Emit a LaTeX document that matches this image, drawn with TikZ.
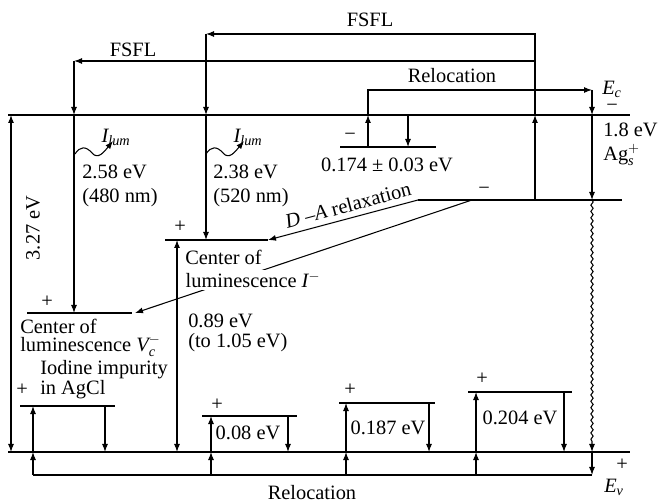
\documentclass[tikz,border=0pt]{standalone}
\usepackage{amsmath}
\usepackage{fontspec}
\setmainfont{Liberation Serif}
\usepackage{tikz}
\usetikzlibrary{arrows.meta,decorations.pathmorphing}

\begin{document}
\begin{tikzpicture}[
  x=0.025cm,y=-0.025cm,
  band/.style={line width=1.6pt},
  level/.style={line width=1.3pt},
  arrow/.style={-{Latex[length=2mm,width=1.5mm]},line width=0.75pt},
  darrow/.style={{Latex[length=2mm,width=1.5mm]}-{Latex[length=2mm,width=1.5mm]},line width=0.75pt},
  lbl/.style={font=\fontsize{14.5}{17}\selectfont,inner sep=0pt},
  wave/.style={decorate,decoration={snake,amplitude=0.8pt,segment length=4.5pt,post length=2.2mm}}
]
  \useasboundingbox (0,0) rectangle (659,504);

  % conduction and valence band
  \draw[band] (8,115) -- (630,115);
  \draw[band] (8,452) -- (630,452);
  \draw[darrow] (11,115) -- (11,452);

  % levels
  \draw[level] (340,147) -- (436,147);
  \draw[level] (418,200) -- (622,200);
  \draw[level] (165,240) -- (268,240);
  \draw[level] (27,313) -- (132,313);
  \draw[level] (20,406) -- (115,406);
  \draw[level] (202,416) -- (297,416);
  \draw[level] (339,403) -- (435,403);
  \draw[level] (468,392) -- (572,392);

  % shallow hole levels + relocation along Ev
  \foreach \xa/\xb/\yl in {33/105/406, 211/288/416, 346/429/403, 476/564/392}{
    \draw[arrow] (\xa,452) -- (\xa,\yl);
    \draw[arrow] (\xb,\yl) -- (\xb,452);
    \draw[arrow] (\xa,475) -- (\xa,452);
  }
  \draw[arrow] (592,452) -- (592,475);
  \draw[line width=0.75pt] (592,475) -- (33,475);

  % Ag level
  \draw[arrow] (592,115) -- (592,200);
  \draw[arrow,wave] (592,200) -- (592,452);

  % shallow electron level + relocation along Ec
  \draw[arrow] (368,147) -- (368,115);
  \draw[arrow] (408,115) -- (408,147);
  \draw[arrow] (368,115) -- (368,90) -- (592,90);
  \draw[arrow] (592,90) -- (592,115);

  % FSFL
  \draw[arrow] (535,200) -- (535,115);
  \draw[arrow] (535,115) -- (535,34) -- (206,34);
  \draw[arrow] (206,34) -- (206,115);
  \draw[arrow] (206,115) -- (206,240);
  \draw[arrow] (535,61) -- (74,61);
  \draw[arrow] (74,61) -- (74,115);
  \draw[arrow] (74,115) -- (74,313);

  % luminescence quanta
  \draw[arrow] (75,154) .. controls (80,146) and (86,146) .. (92,153)
    .. controls (98,160) and (104,152) .. (113,141);
  \draw[arrow] (206,154) .. controls (211,146) and (217,146) .. (223,153)
    .. controls (229,160) and (235,152) .. (244,141);

  % D-A relaxation
  \draw[arrow] (418,200) -- (268,240);
  \draw[arrow] (472,200) -- (135,313);
  \draw[darrow] (177,240) -- (177,452);

  % labels
  \node[lbl,rotate=90] (gap) at (33,228) {3.27 eV};
  \node[lbl,align=center] (ec) at (612,96) {$\textit{E}_{\textit{c}}$\\[-5pt]−};
  \node[lbl] (ev) at (614,487) {$\textit{E}_{\textit{v}}$};
  \node[lbl] (evp) at (622,465) {+};
  \node[lbl] (fsflA) at (370,20) {FSFL};
  \node[lbl] (fsflB) at (133,50) {FSFL};
  \node[lbl] (relocA) at (452,76) {Relocation};
  \node[lbl] (relocB) at (312,493) {Relocation};
  \node[lbl] (lumA) at (116,137) {$\textit{I}_{\textit{lum}}$};
  \node[lbl] (lumB) at (248,137) {$\textit{I}_{\textit{lum}}$};
  \node[lbl,align=left,anchor=west] (eA) at (82,186) {2.58 eV\\(480 nm)};
  \node[lbl,align=left,anchor=west] (eB) at (213,186) {2.38 eV\\(520 nm)};
  \node[lbl] (eshal) at (387,165) {0.174 ± 0.03 eV};
  \node[lbl] (mshal) at (350,137) {−};
  \node[lbl,anchor=west] (eag) at (603,130) {1.8 eV};
  \node[lbl,anchor=west] (ag) at (603,155) {$\text{Ag}_{\textit{s}}^{+}$};
  \node[lbl] (mag) at (484,191) {−};
  \node[lbl,rotate=15] (darel) at (348,205) {\textit{D} –\textit{A} relaxation};
  \node[lbl] (pI) at (180,227) {+};
  \node[lbl,anchor=west] (cI) at (185,257) {Center of};
  \node[lbl,anchor=west,fill=white,inner sep=1pt] (lI) at (184,280) {luminescence $\textit{I}^{-}$};
  \node[lbl,anchor=west] (eI) at (188,321) {0.89 eV};
  \node[lbl,anchor=west] (eIb) at (188,343) {(to 1.05 eV)};
  \node[lbl] (pV) at (47,302) {+};
  \node[lbl,anchor=west] (cV) at (20,326) {Center of};
  \node[lbl,anchor=west] (lV) at (20,346) {luminescence $\textit{V}_{\textit{c}}^{-}$};
  \node[lbl,anchor=west] (iod) at (40,370) {Iodine impurity};
  \node[lbl,anchor=west] (agcl) at (40,390) {in AgCl};
  \node[lbl] (p1) at (22,390) {+};
  \node[lbl] (p2) at (217,405) {+};
  \node[lbl] (p3) at (350,390) {+};
  \node[lbl] (p4) at (482,379) {+};
  \node[lbl] (e2) at (248,433) {0.08 eV};
  \node[lbl] (e3) at (388,428) {0.187 eV};
  \node[lbl] (e4) at (520,418) {0.204 eV};
\end{tikzpicture}
\end{document}
